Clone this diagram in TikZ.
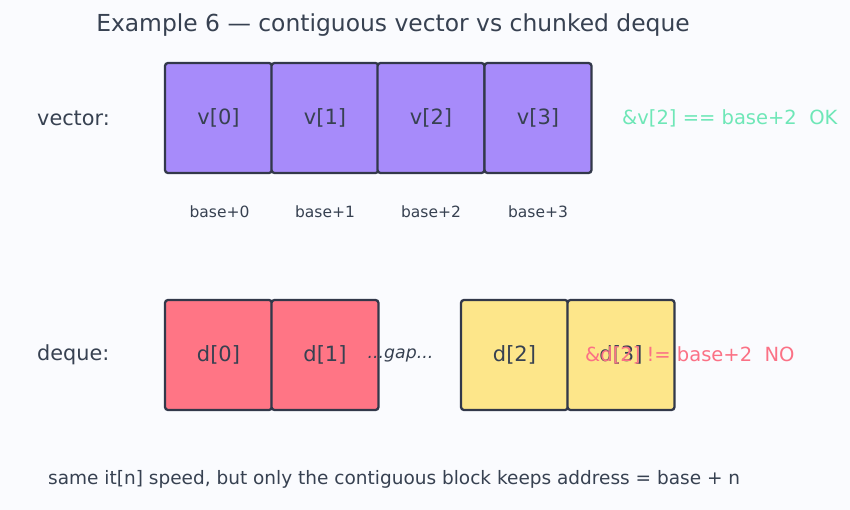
\documentclass[tikz,border=0pt]{standalone}
\usepackage{fontspec}
\setmainfont{DejaVu Sans}

\begin{document}
\begin{tikzpicture}[x=1pt, y=-1pt,
  cell/.style={draw=edge, line width=2.3pt, rounded corners=3pt,
    minimum width=107pt, minimum height=110pt, inner sep=0pt,
    text=ink, font=\fontsize{21}{25}\selectfont},
  rowlabel/.style={anchor=west, inner sep=0pt, text=ink, font=\fontsize{20.8}{25}\selectfont},
  addr/.style={inner sep=0pt, text=ink, font=\fontsize{15.5}{18}\selectfont},
  note/.style={anchor=west, inner sep=0pt, font=\fontsize{19.5}{23}\selectfont}]

% Colors
\definecolor{bg}{RGB}{250,251,254}     % background
\definecolor{ink}{RGB}{55,65,81}       % text
\definecolor{edge}{RGB}{50,56,74}      % box border
\definecolor{violet}{RGB}{167,139,250} % vector cells
\definecolor{rose}{RGB}{255,117,133}   % deque chunk 1
\definecolor{amber}{RGB}{253,230,138}  % deque chunk 2
\definecolor{okgreen}{RGB}{110,231,183}
\definecolor{nored}{RGB}{251,113,133}

\fill[bg] (0,0) rectangle (850,510);

% === Title ===
\node[inner sep=0pt, text=ink, font=\fontsize{23.4}{28}\selectfont] (title) at (393,25) {Example 6 — contiguous vector vs chunked deque};

% === vector ===
\node[rowlabel] (veclabel) at (37,118) {vector:};

\node[cell, fill=violet] (v0) at (218.5,118) {v[0]};
\node[cell, fill=violet] (v1) at (325,118) {v[1]};
\node[cell, fill=violet] (v2) at (431,118) {v[2]};
\node[cell, fill=violet] (v3) at (538,118) {v[3]};

\node[addr] (a0) at (219.5,212) {base+0};
\node[addr] (a1) at (325,212) {base+1};
\node[addr] (a2) at (431,212) {base+2};
\node[addr] (a3) at (538,212) {base+3};

\node[note, text=okgreen] (vecok) at (622,118) {\&v[2] == base+2 \ OK};

% === deque ===
\node[rowlabel] (deqlabel) at (37,355) {deque:};

\node[cell, fill=rose] (d0) at (218.5,355) {d[0]};
\node[cell, fill=rose] (d1) at (325,355) {d[1]};
\node[cell, fill=amber] (d2) at (514.5,355) {d[2]};
\node[cell, fill=amber] (d3) at (621,355) {d[3]};

\node[inner sep=0pt, text=ink, font=\fontsize{17.3}{20}\itshape] (gap) at (400.5,355) {...gap...};

\node[note, text=nored] (deqno) at (585,355) {\&d[2] != base+2 \ NO};

% === Footer ===
\node[anchor=west, inner sep=0pt, text=ink, font=\fontsize{18.5}{22}\selectfont] (footer) at (48,479) {same it[n] speed, but only the contiguous block keeps address = base + n};

\end{tikzpicture}
\end{document}
